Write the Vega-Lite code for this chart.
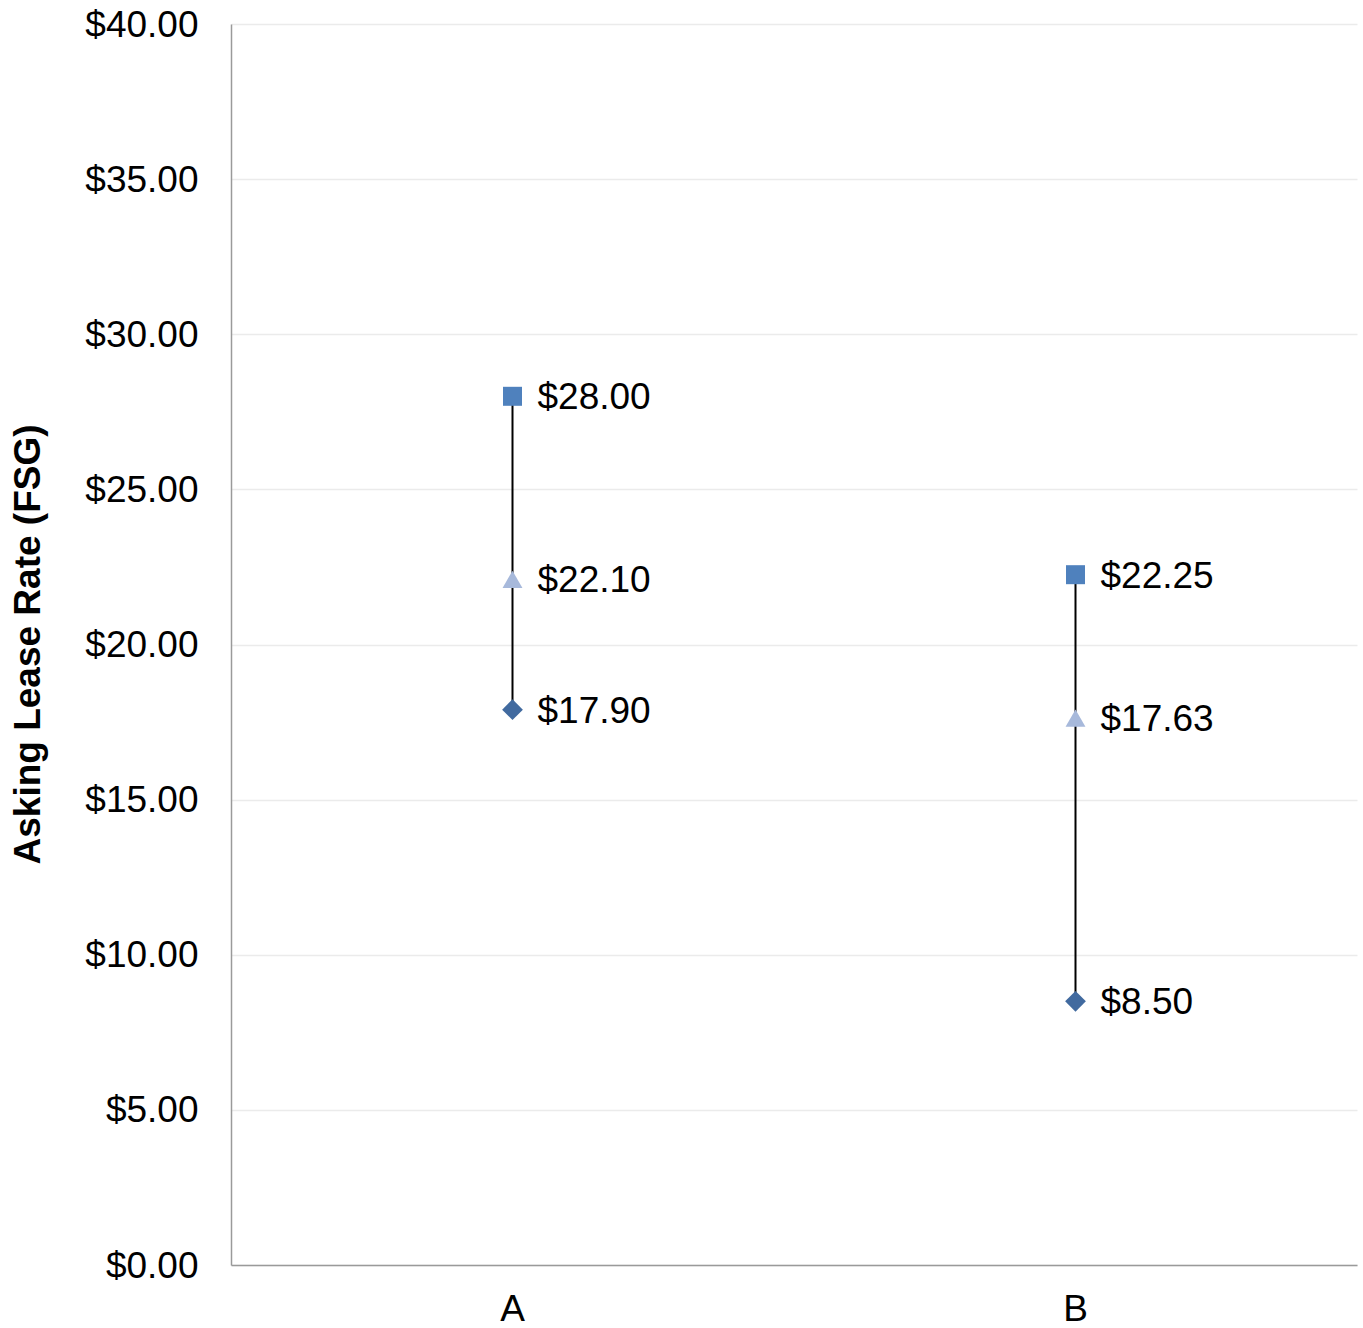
{
  "$schema": "https://vega.github.io/schema/vega-lite/v6.json",
  "width": 1126,
  "height": 1241,
  "autosize": "none",
  "padding": {"left": 231, "top": 24, "right": 6, "bottom": 63},
  "background": "white",
  "config": {
    "view": {"stroke": null},
    "font": "Liberation Sans",
    "axis": {
      "labelFont": "Liberation Sans",
      "titleFont": "Liberation Sans",
      "labelColor": "#000000",
      "titleColor": "#000000",
      "labelFontSize": 37,
      "titleFontSize": 37,
      "domainColor": "#9a9a9a",
      "domainWidth": 1.5,
      "ticks": false,
      "gridColor": "#ebebeb",
      "gridWidth": 1.5
    }
  },
  "data": {
    "values": [
      {"building": "A", "stat": "High", "rate": 28.00},
      {"building": "A", "stat": "Average", "rate": 22.10},
      {"building": "A", "stat": "Low", "rate": 17.90},
      {"building": "B", "stat": "High", "rate": 22.25},
      {"building": "B", "stat": "Average", "rate": 17.63},
      {"building": "B", "stat": "Low", "rate": 8.50}
    ]
  },
  "encoding": {
    "x": {
      "field": "building",
      "type": "nominal",
      "scale": {"paddingInner": 0, "paddingOuter": 0},
      "axis": {"title": null, "labelAngle": 0, "labelPadding": 26, "grid": false}
    }
  },
  "layer": [
    {
      "mark": {"type": "rule", "color": "#000000", "strokeWidth": 2},
      "encoding": {
        "y": {
          "aggregate": "min",
          "field": "rate",
          "type": "quantitative",
          "scale": {"domain": [0, 40], "nice": false},
          "axis": {
            "title": "Asking Lease Rate (FSG)",
            "titleFontWeight": "bold",
            "titleX": -192,
            "titleY": 620,
            "titleBaseline": "alphabetic",
            "titleAlign": "center",
            "titleAngle": -90,
            "format": "$.2f",
            "values": [0, 5, 10, 15, 20, 25, 30, 35, 40],
            "labelPadding": 33,
            "labelOffset": 1,
            "grid": true
          }
        },
        "y2": {"aggregate": "max", "field": "rate"}
      }
    },
    {
      "mark": {"type": "point", "filled": true, "opacity": 1},
      "encoding": {
        "y": {"field": "rate", "type": "quantitative"},
        "shape": {
          "field": "stat",
          "type": "nominal",
          "scale": {"domain": ["High", "Average", "Low"], "range": ["square", "triangle-up", "diamond"]},
          "legend": null
        },
        "color": {
          "field": "stat",
          "type": "nominal",
          "scale": {"domain": ["High", "Average", "Low"], "range": ["#4f81bd", "#a7b9db", "#416a9f"]},
          "legend": null
        },
        "size": {
          "field": "stat",
          "type": "nominal",
          "scale": {"domain": ["High", "Average", "Low"], "range": [361, 430, 280]},
          "legend": null
        }
      }
    },
    {
      "mark": {"type": "text", "align": "left", "baseline": "middle", "dx": 25, "dy": 2, "fontSize": 37, "color": "#000000"},
      "encoding": {
        "y": {"field": "rate", "type": "quantitative"},
        "text": {"field": "rate", "type": "quantitative", "format": "$.2f"}
      }
    }
  ]
}
